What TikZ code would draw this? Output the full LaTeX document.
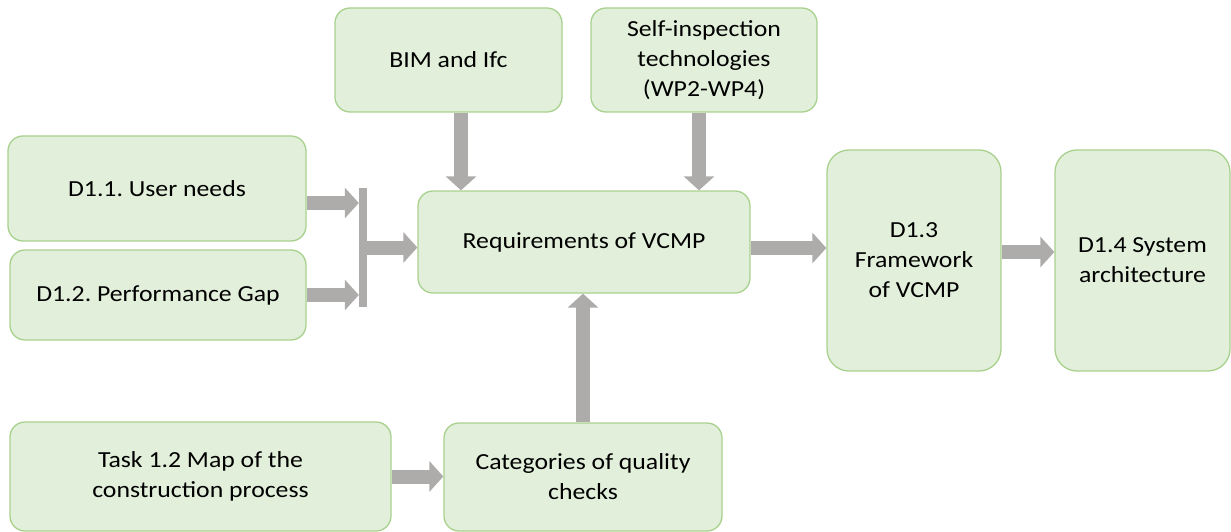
\documentclass[tikz,border=0pt]{standalone}
\usepackage{fontspec}
\setmainfont{Carlito}[FakeStretch=1.12]
\usetikzlibrary{arrows.meta}
\definecolor{boxfill}{HTML}{E2EFDA}
\definecolor{boxline}{HTML}{A9D18E}
\definecolor{flowgray}{HTML}{AEABAB}
\frenchspacing
\begin{document}
\begin{tikzpicture}[x=1pt,y=-1pt,
  box/.style={draw=boxline,fill=boxfill,line width=1.3pt,rounded corners=15pt,
    inner sep=0pt,align=center,font=\fontsize{23}{30}\selectfont},
  tallbox/.style={box,rounded corners=22pt},
  blk/.style={draw=flowgray,line width=14pt,
    -{Triangle[width=30pt,length=14pt,fill=flowgray]}},
  joinbar/.style={fill=flowgray,inner sep=0pt,minimum width=8pt,minimum height=119pt}]
\useasboundingbox (0,0) rectangle (1231,532);

% source and process boxes
\node[box,minimum width=227pt,minimum height=104pt] (bim) at (448.5,60) {BIM and Ifc};
\node[box,minimum width=226pt,minimum height=104pt] (self) at (704,60) {Self-inspection\\technologies\\(WP2-WP4)};
\node[box,minimum width=298pt,minimum height=105pt] (d11) at (157,188.5) {D1.1. User needs};
\node[box,minimum width=296pt,minimum height=90pt] (d12) at (158,295) {D1.2. Performance Gap};
\node[box,minimum width=332pt,minimum height=102pt] (req) at (584,242) {Requirements of VCMP};
\node[tallbox,minimum width=174pt,minimum height=221pt] (d13) at (914,260.5) {D1.3\\Framework\\of VCMP};
\node[tallbox,minimum width=175pt,minimum height=221pt] (d14) at (1142.5,260.5) {D1.4 System\\architecture};
\node[box,minimum width=381pt,minimum height=109pt] (task) at (200.5,476.5) {Task 1.2 Map of the\\construction process};
\node[box,minimum width=278pt,minimum height=108pt] (cat) at (583,477) {Categories of quality\\checks};

% bar joining the two deliverable inputs
\node[joinbar] (bar) at (363,247.5) {};

% block arrows
\draw[blk] ([yshift=-14.5pt]d11.east) -- ([yshift=-14.5pt]d11.east -| bar.west);
\draw[blk] (d12.east) -- (d12.east -| bar.west);
\draw[blk] (bar.east) -- (bar.east -| req.west);
\draw[blk] ([xshift=12.5pt]bim.south) -- ([xshift=12.5pt]bim.south |- req.north);
\draw[blk] ([xshift=-5pt]self.south) -- ([xshift=-5pt]self.south |- req.north);
\draw[blk] (cat.north) -- (cat.north |- req.south);
\draw[blk] (task.east) -- (task.east -| cat.west);
\draw[blk] ([yshift=-6pt]req.east) -- ([yshift=-6pt]req.east -| d13.west);
\draw[blk] ([yshift=8.5pt]d13.east) -- ([yshift=8.5pt]d13.east -| d14.west);
\end{tikzpicture}
\end{document}
